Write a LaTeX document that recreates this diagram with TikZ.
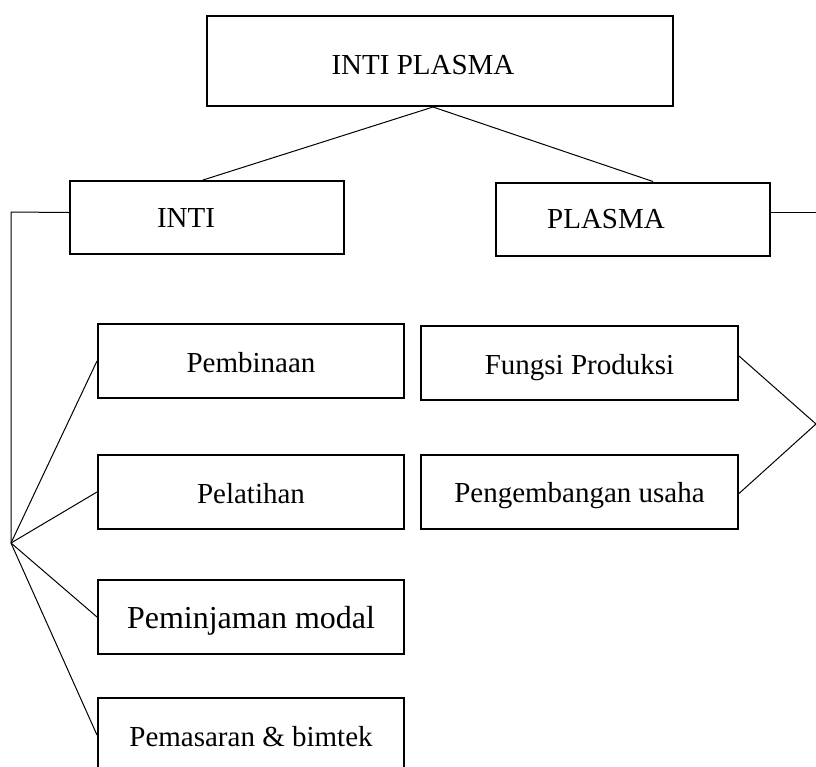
\documentclass[tikz,border=0pt]{standalone}
\usepackage{fontspec}
\setmainfont{Liberation Serif}
\usetikzlibrary{positioning,calc}

\begin{document}
\begin{tikzpicture}[
  x=0.5pt,y=-0.5pt,
  font=\fontsize{14.5}{17}\selectfont,
  mainbox/.style={draw=black,line width=1pt,minimum width=233pt,
    minimum height=45pt,inner sep=0pt},
  sidebox/.style={draw=black,line width=1pt,minimum width=137pt,
    minimum height=36.5pt,inner sep=0pt},
  lbox/.style={draw=black,line width=1pt,minimum width=153pt,
    minimum height=37pt,inner sep=0pt,align=center,
    text height=11pt,text depth=0pt},
  rbox/.style={draw=black,line width=1pt,minimum width=158.5pt,
    minimum height=37pt,inner sep=0pt,align=center,
    text height=11pt,text depth=0pt},
  link/.style={draw=black,line width=0.5pt}
]
\useasboundingbox (0,0) rectangle (816,767);
% top of the tree; texts sit a little left of the box centres
\node[mainbox,label={[xshift=-8.5pt,yshift=-2pt]center:INTI PLASMA}] (intiplasma) at (440,61) {};
\node[sidebox,label={[xshift=-10.5pt]center:INTI}] (inti) at (207,217.5) {};
\node[sidebox,label={[xshift=-13.5pt]center:PLASMA}] (plasma) at (633,219) {};
\draw[link] ([xshift=-3.5pt]intiplasma.south)--([xshift=-2pt]inti.north);
\draw[link] ([xshift=-3.5pt]intiplasma.south)--([xshift=10pt]plasma.north);
% INTI branch
\node[lbox] (pembinaan) at (251,361) {Pembinaan};
\node[lbox] (pelatihan) at (251,492) {Pelatihan};
\node[lbox,font=\fontsize{16}{19}\selectfont] (modal) at (251,617) {Peminjaman modal};
\node[lbox] (pemasaran) at (251,735) {Pemasaran \& bimtek};
\coordinate (intibend) at (11,212);
\coordinate (intifan) at (11,543);
\draw[link] ([yshift=2.5pt]inti.west)--(intibend)--(intifan);
\foreach \b in {pembinaan,pelatihan,modal,pemasaran}
  \draw[link] (intifan)--(\b.west);
% PLASMA branch
\node[rbox] (produksi) at (579.5,363) {Fungsi Produksi};
\node[rbox] (usaha) at (579.5,491.5) {Pengembangan usaha};
\coordinate (plasmaend) at (816,212);
\coordinate (plasmafan) at (816,424);
\draw[link] ([yshift=3.5pt]plasma.east)--(plasmaend);
\draw[link] ([yshift=3.5pt]produksi.east)--(plasmafan)--([yshift=-1pt]usaha.east);
\end{tikzpicture}
\end{document}
